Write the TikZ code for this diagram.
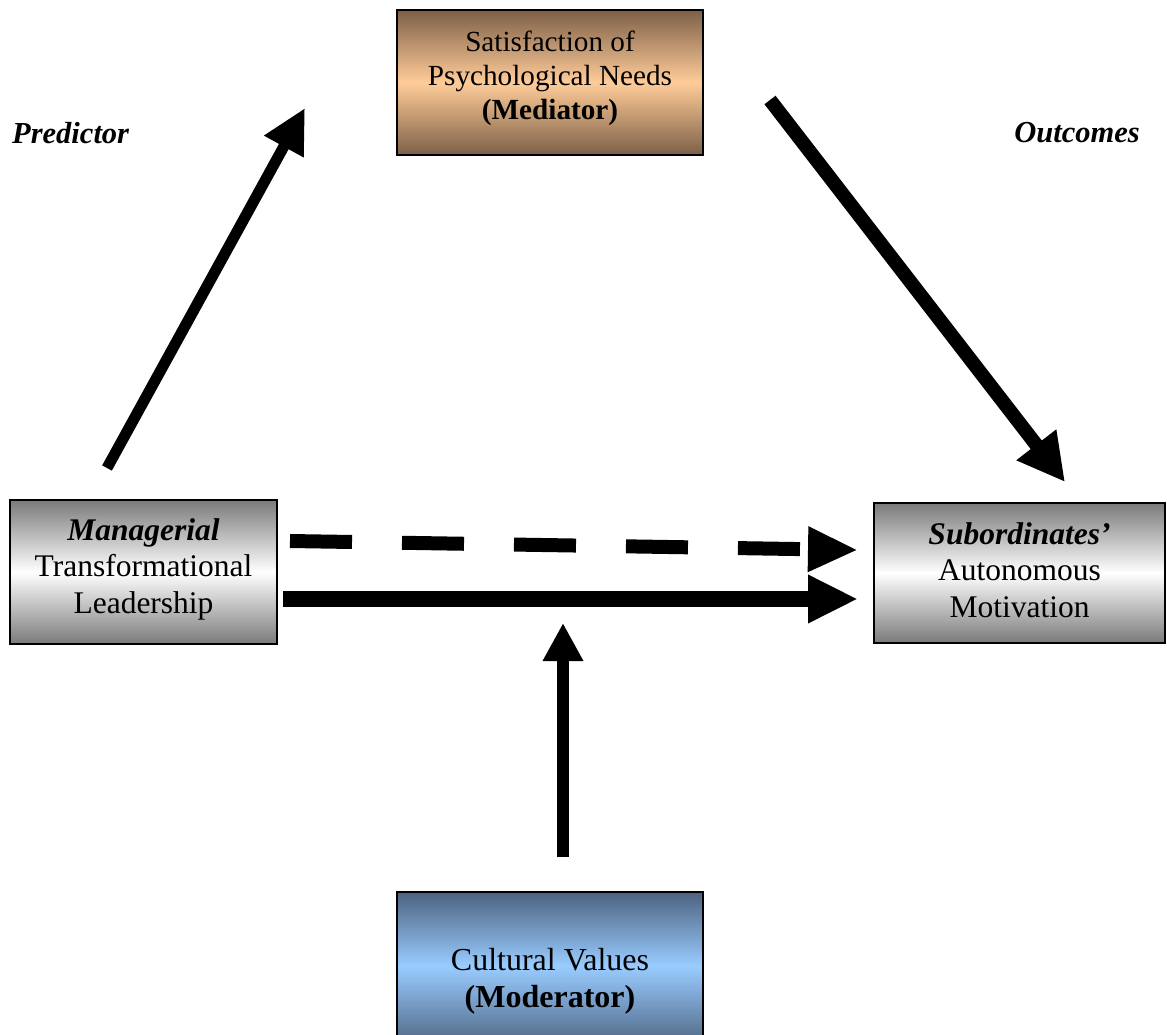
\documentclass[tikz,border=0pt]{standalone}
\usepackage{fontspec}
\setmainfont{Liberation Serif}
\usetikzlibrary{arrows.meta}
\definecolor{brownedge}{HTML}{7D5F47}
\definecolor{peach}{HTML}{FFCC99}
\definecolor{blueedge}{HTML}{4D6280}
\definecolor{bluelight}{HTML}{99CCFF}
\definecolor{grayedge}{HTML}{7A7A7A}
\begin{document}
\begin{tikzpicture}[x=1pt,y=-1pt,
  boxtxt/.style={align=center,font=\fontsize{31.5}{36.5}\selectfont,inner sep=0pt},
  box/.style={draw=black,line width=1.5pt,inner sep=0pt},
  graybox/.style={box,top color=grayedge,bottom color=grayedge,middle color=white},
  brownbox/.style={box,top color=brownedge,bottom color=brownedge,middle color=peach},
  bluebox/.style={box,top color=blueedge,bottom color=blueedge!90!bluelight,middle color=bluelight},
  sidelabel/.style={font=\fontsize{30.5}{36}\selectfont\bfseries\itshape,inner sep=0pt},
]
\useasboundingbox (0,0) rectangle (1167,1034);
\clip (0,0) rectangle (1167,1034);

% boxes
\node[brownbox,minimum width=306pt,minimum height=145pt] (med) at (550,82.5) {};
\node[boxtxt,font=\fontsize{29.2}{34}\selectfont] (medt) at (550,78)
  {Satisfaction of\\Psychological Needs\\\textbf{(Mediator)}};

\node[graybox,minimum width=267pt,minimum height=144pt] (man) at (143.5,572) {};
\node[boxtxt] (mant) at (143.5,569) {\textbf{\textit{Managerial}}\\Transformational\\Leadership};

\node[graybox,minimum width=291pt,minimum height=140pt] (sub) at (1019.5,573) {};
\node[boxtxt] (subt) at (1019.5,570) {\textbf{\textit{Subordinates’}}\\Autonomous\\Motivation};

\node[bluebox,minimum width=306pt,minimum height=148pt] (cv) at (550,966) {};
\node[boxtxt,font=\fontsize{32}{37}\selectfont] (cvt) at (550,981) {Cultural Values\\\textbf{(Moderator)}};

% side labels
\node[sidelabel,anchor=west] (pred) at (12,133) {Predictor};
\node[sidelabel,anchor=east] (outc) at (1140,133) {Outcomes};

% arrow end points
\coordinate (a1s) at (107,468);
\coordinate (a1e) at (305,108);
\coordinate (a2s) at (770,100);
\coordinate (a2e) at (1065,482);
\coordinate (a3s) at (290,541);
\coordinate (a3e) at (858,550);
\coordinate (a4s) at (283,599);
\coordinate (a4e) at (858,599);
\coordinate (a5s) at (563,857);
\coordinate (a5e) at (563,623);

\draw[line width=11pt,-{Triangle[length=44pt,width=42pt]}] (a1s) -- (a1e);
\draw[line width=14pt,-{Triangle[length=47pt,width=47pt]}] (a2s) -- (a2e);
\draw[line width=14pt,dash pattern=on 62pt off 50pt,-{Triangle[length=50pt,width=42pt]}] (a3s) -- (a3e);
\draw[line width=16pt,-{Triangle[length=50pt,width=45pt]}] (a4s) -- (a4e);
\draw[line width=12pt,-{Triangle[length=38pt,width=38pt]}] (a5s) -- (a5e);
\end{tikzpicture}
\end{document}
